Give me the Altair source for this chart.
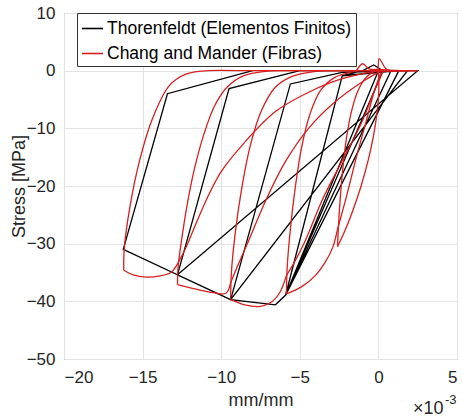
import altair as alt
import pandas as pd

# ---------------- data (strain in units of 1e-3, stress in MPa) ----------------
series_names = ["Thorenfeldt (Elementos Finitos)", "Chang and Mander (Fibras)"]
series_colors = ["#000000", "#d81e1e"]

x_ticks = [-20, -15, -10, -5, 0, 5]
y_ticks = [-50, -40, -30, -20, -10, 0, 10]

# Thorenfeldt (finite elements): piecewise-linear path, in loading order
black_strain = [0.0, -5.9,
                -2.3, -1.0, -0.3, 0.3, -5.9,
                -2.3, 0.8, -5.9,
                -2.3, 1.3, -5.9,
                -6.55, -9.4,
                -5.6, -2.3, 1.85, -9.4,
                -12.78,
                -9.5, -5.0, 2.5, -12.78,
                -16.23,
                -13.42, -8.0]
black_stress = [0.0, -38.9,
                -0.9, 0.0, 1.0, 0.0, -38.9,
                -0.9, 0.0, -38.9,
                -0.9, 0.0, -38.9,
                -40.6, -39.7,
                -2.3, -0.3, 0.0, -39.7,
                -35.4,
                -3.1, 0.0, 0.0, -35.4,
                -31.0,
                -4.0, 0.0]

# Chang and Mander (fibres): smooth branches, each branch has its own id
red_strain = [0.0, 0.02, -0.2, -0.6, -1.1, -1.7, -2.2, -2.6,
              -2.6, -2.52, -2.35, -2.1, -1.75, -1.3, -0.8, -0.3, 0.0,
              0.0, 0.05, 0.5, 1.0,
              1.0, 0.2,
              0.2, -0.25, -0.8, -1.4, -2.0, -2.6,
              -2.6, -2.9, -3.4, -4.0, -4.9, -5.85,
              -5.85, -5.8, -5.6, -5.3, -4.9, -4.35, -3.7, -2.8, -1.8, -1.4,
              -1.4, -1.0, -0.6, 0.0, 1.5,
              1.5, 0.3,
              0.3, -0.2, -1.05, -2.32, -3.6, -4.65, -5.4, -5.85,
              -5.85, -6.3, -6.9, -7.6, -8.5, -9.4,
              -9.4, -9.35, -9.1, -8.7, -8.15, -7.45, -6.6, -5.5, -4.2, -3.2,
              -3.2, 2.0,
              2.0, 0.2,
              0.2, -1.06, -2.75, -4.44, -5.9, -7.18, -8.24, -8.9, -9.4,
              -9.4, -9.7, -10.5, -11.6, -12.78,
              -12.78, -12.74, -12.5, -12.15, -11.7, -11.1, -10.4, -9.6, -8.6, -7.2, -6.0,
              -6.0, 2.5,
              2.5, 0.0,
              0.0, -2.3, -4.4, -6.55, -8.66, -10.0, -10.77, -11.6, -12.3, -12.78,
              -12.78, -13.2, -13.9, -14.8, -15.6, -16.2,
              -16.2, -16.17, -15.85, -15.2, -14.37, -13.3, -12.25, -10.8, -9.0,
              -9.0, 2.5]
red_stress = [0.0, -4.0, -9.5, -15.0, -20.0, -24.8, -28.2, -30.5,
              -30.5, -26.0, -19.5, -13.0, -7.5, -3.5, -1.2, -0.2, 0.0,
              0.0, 2.1, 0.3, 0.0,
              0.0, 0.0,
              0.0, -3.5, -9.0, -15.0, -21.5, -27.5,
              -27.5, -30.6, -33.3, -35.5, -37.5, -38.7,
              -38.7, -34.0, -27.5, -20.5, -13.5, -7.5, -3.5, -1.2, -0.3, 0.0,
              0.0, 1.2, 0.3, 0.2, 0.0,
              0.0, 0.0,
              0.0, -3.1, -8.9, -15.7, -22.6, -29.5, -33.5, -35.5,
              -35.5, -38.6, -40.3, -40.9, -40.6, -39.7,
              -39.7, -35.0, -28.0, -20.5, -13.0, -7.0, -3.0, -1.0, -0.2, 0.0,
              0.0, 0.0,
              0.0, 0.0,
              0.0, -2.0, -5.4, -10.0, -15.7, -22.6, -29.4, -33.5, -36.8,
              -36.8, -38.6, -38.5, -37.9, -37.1,
              -37.1, -34.0, -29.0, -23.0, -17.0, -11.0, -6.0, -2.8, -0.9, -0.1, 0.0,
              0.0, 0.0,
              0.0, 0.0,
              0.0, -1.4, -3.7, -7.1, -12.9, -17.5, -21.4, -26.5, -31.0, -33.5,
              -33.5, -35.0, -35.6, -35.8, -35.4, -34.6,
              -34.6, -31.0, -24.3, -15.7, -8.3, -2.6, -0.6, 0.0, 0.0,
              0.0, 0.0]
red_branch_sizes = [8, 9, 4, 2, 6, 6, 10, 5, 2, 8, 6, 10, 2, 2, 9, 5, 11, 2, 2, 10, 6, 9, 2]

# ---------------- tables ----------------
black_df = pd.DataFrame({
    "strain": black_strain,
    "stress": black_stress,
    "series": series_names[0],
    "idx": list(range(len(black_strain))),
})
red_branch = []
for i, n in enumerate(red_branch_sizes):
    red_branch += [i] * n
red_df = pd.DataFrame({
    "strain": red_strain,
    "stress": red_stress,
    "series": series_names[1],
    "branch": red_branch,
    "idx": list(range(len(red_strain))),
})

W, H = 393, 346
FONT = "Liberation Sans"

color = alt.Color(
    "series:N",
    scale=alt.Scale(domain=series_names, range=series_colors),
    legend=alt.Legend(
        title=None, orient="none", legendX=13, legendY=0,
        direction="vertical",
        symbolType="stroke", symbolSize=440, symbolStrokeWidth=1.6,
        labelFont=FONT, labelFontSize=17.5, labelColor="#000000", labelLimit=0,
        labelOffset=3, rowPadding=5, padding=4,
        strokeColor="#333333", fillColor="#ffffff", cornerRadius=0,
    ),
)

x_enc = alt.X(
    "strain:Q",
    scale=alt.Scale(domain=[-20, 5], nice=False, zero=False),
    axis=alt.Axis(values=x_ticks, title="mm/mm", grid=True, ticks=False, domain=False,
                  labelPadding=10, titlePadding=6),
)
y_enc = alt.Y(
    "stress:Q",
    scale=alt.Scale(domain=[-50, 10], nice=False, zero=False),
    axis=alt.Axis(values=y_ticks, title="Stress [MPa]", grid=True, ticks=False, domain=False,
                  labelPadding=9, titleX=-45, titleBaseline="middle"),
)

black_layer = alt.Chart(black_df).mark_line(strokeWidth=1.3, clip=True).encode(
    x=x_enc, y=y_enc, color=color, order="idx:Q",
)

red_layer = alt.Chart(red_df).mark_line(strokeWidth=1.3, interpolate="catmull-rom", clip=True).encode(
    x=x_enc, y=y_enc, color=color, detail="branch:N", order="idx:Q",
)

exp_base = alt.Chart(pd.DataFrame({"t": ["\u00d710"]})).mark_text(
    align="left", baseline="middle", fontSize=18, font=FONT, color="#262626"
).encode(x=alt.value(349), y=alt.value(396), text="t:N")

exp_sup = alt.Chart(pd.DataFrame({"t": ["-3"]})).mark_text(
    align="left", baseline="middle", fontSize=13, font=FONT, color="#262626"
).encode(x=alt.value(381), y=alt.value(387), text="t:N")

chart = alt.layer(black_layer, red_layer, exp_base, exp_sup).properties(
    width=W, height=H,
    autosize=alt.AutoSizeParams(type="none"),
    padding={"left": 64, "top": 13, "right": 5, "bottom": 58},
    background="#ffffff",
).configure_axis(
    labelFont=FONT, labelFontSize=17, labelColor="#262626",
    titleFont=FONT, titleFontSize=18, titleColor="#262626", titleFontWeight="normal",
    gridColor="#e3e3e3", gridWidth=1,
).configure_view(
    stroke="#4d4d4d", strokeWidth=1,
)

chart.save("out.html", embed_options={"renderer": "svg", "actions": False})
